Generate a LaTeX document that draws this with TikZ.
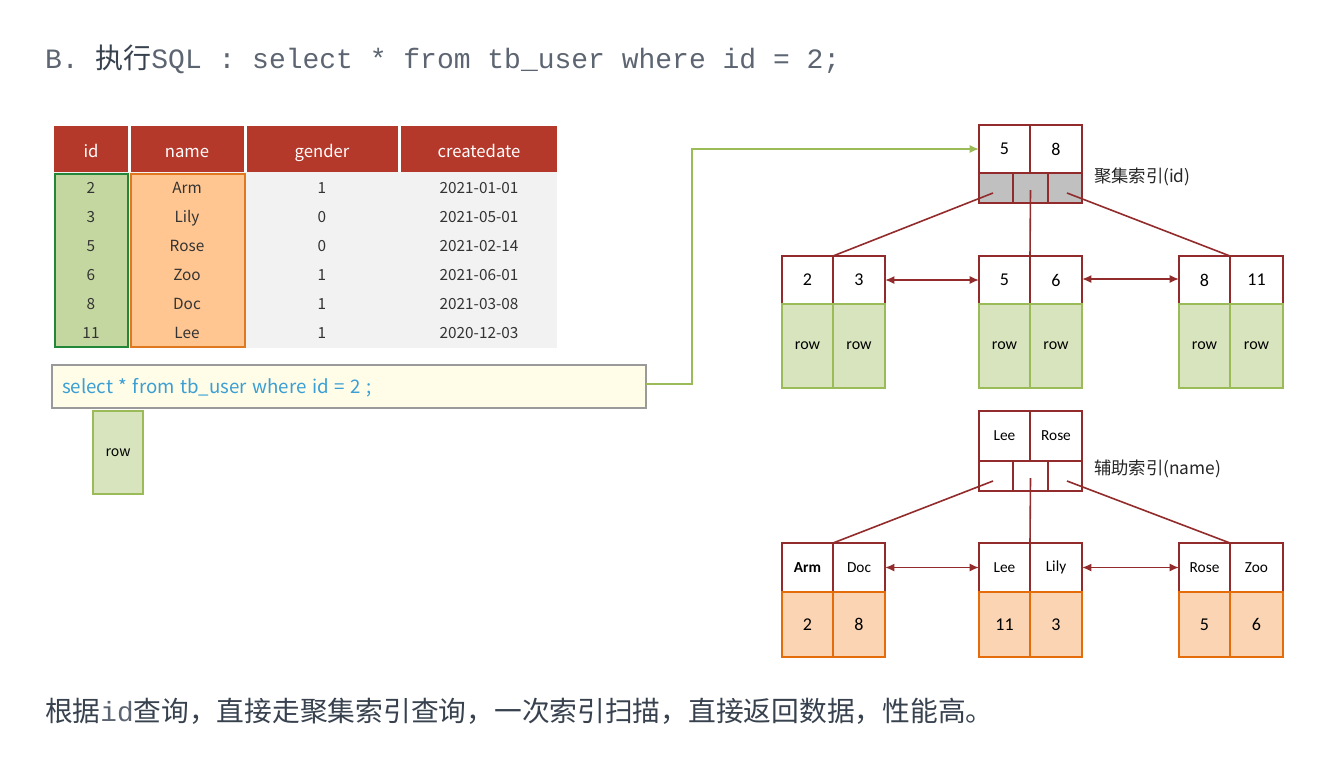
\documentclass[tikz,border=0pt]{standalone}
\usepackage{fontspec}
\setmainfont{Carlito}
\newfontfamily\cjk{Noto Sans CJK SC}
\newfontfamily\monof{Liberation Mono}
\usetikzlibrary{arrows.meta}
\definecolor{hdrred}{HTML}{B5392B}
\definecolor{bodygray}{HTML}{F2F2F2}
\definecolor{idfill}{HTML}{C5D7A0}
\definecolor{idline}{HTML}{23873A}
\definecolor{nmfill}{HTML}{FFC691}
\definecolor{nmline}{HTML}{E07820}
\definecolor{sqlfill}{HTML}{FFFDE8}
\definecolor{sqlline}{HTML}{9A9A9A}
\definecolor{sqltxt}{HTML}{3A9FD4}
\definecolor{linkgreen}{HTML}{9BBB59}
\definecolor{treered}{HTML}{922B2B}
\definecolor{rowfill}{HTML}{D7E4BD}
\definecolor{valfill}{HTML}{FBD4B4}
\definecolor{valline}{HTML}{E46C0A}
\definecolor{ptrgray}{HTML}{C0C0C0}
\definecolor{titlemono}{HTML}{5C6571}
\definecolor{titlecjk}{HTML}{38424F}
\definecolor{bodytxt}{HTML}{333333}
\newcommand\cellbox[7]{\node[#6, minimum width={(#4-#2)*0.75pt}, minimum height={(#5-#3)*0.75pt}] (#1) at ({(#2+#4)/2},{(#3+#5)/2}) {#7};}
\tikzset{
  every node/.style={inner sep=0pt, outer sep=0pt},
  hdr/.style={fill=hdrred},
  hdrt/.style={anchor=base, text=white, font=\cjk\fontsize{12.5pt}{14pt}\selectfont},
  tcell/.style={anchor=base, text=bodytxt, font=\cjk\fontsize{11.5pt}{13pt}\selectfont},
  key/.style={draw=treered, line width=1.4pt, fill=white, font=\fontsize{13.5pt}{15pt}\selectfont},
  keyn/.style={draw=treered, line width=1.4pt, fill=white, font=\fontsize{11.5pt}{13pt}\selectfont},
  ptrg/.style={draw=treered, line width=1.4pt, fill=ptrgray},
  ptrw/.style={draw=treered, line width=1.4pt, fill=white},
  rowc/.style={draw=linkgreen, line width=1.4pt, fill=rowfill, font=\fontsize{12pt}{14pt}\selectfont},
  valc/.style={draw=valline, line width=1.4pt, fill=valfill, font=\fontsize{13.5pt}{15pt}\selectfont},
  tline/.style={draw=treered, line width=1.2pt},
  sib/.style={draw=treered, line width=1.2pt, {Latex[length=7pt,width=6pt]}-{Latex[length=7pt,width=6pt]}},
  lbl/.style={anchor=west, font=\cjk\fontsize{13pt}{15pt}\selectfont, text=black!85}
}
\begin{document}
\begin{tikzpicture}[x=0.75pt,y=-0.75pt]
\useasboundingbox (0,0) rectangle (1338,769);
\fill[white] (0,0) rectangle (1338,769);
% title
\node[anchor=base west] (title) at (45,68) {\fontsize{21pt}{24pt}\selectfont\color{titlemono}\monof B. \color{titlecjk}\cjk 执行\color{titlemono}\monof SQL : select * from tb\_user where id = 2;};
% table
\fill[bodygray] (54,172) rectangle (557,348);
\cellbox{h1}{54}{126}{128}{172}{hdr}{}
\cellbox{h2}{131}{126}{244}{172}{hdr}{}
\cellbox{h3}{247}{126}{398}{172}{hdr}{}
\cellbox{h4}{401}{126}{557}{172}{hdr}{}
\node[hdrt] (h1t) at (91,157) {id};
\node[hdrt] (h2t) at (187,157) {name};
\node[hdrt] (h3t) at (322,157) {gender};
\node[hdrt] (h4t) at (479,157) {createdate};
\draw[idline, line width=1.6pt, fill=idfill] (55,174) rectangle (128,347);
\draw[nmline, line width=1.6pt, fill=nmfill] (131,174) rectangle (245,347);
\foreach \y/\a/\b/\c/\d [count=\i] in {193/2/Arm/1/2021-01-01, 222/3/Lily/0/2021-05-01, 251/5/Rose/0/2021-02-14, 280/6/Zoo/1/2021-06-01, 309/8/Doc/1/2021-03-08, 338/11/Lee/1/2020-12-03}{
  \node[tcell] (t\i a) at (91,\y) {\a};
  \node[tcell] (t\i b) at (187,\y) {\b};
  \node[tcell] (t\i c) at (322,\y) {\c};
  \node[tcell] (t\i d) at (479,\y) {\d};
}
% sql box
\cellbox{sql}{52}{365}{646}{408}{draw=sqlline, line width=0.8pt, fill=sqlfill}{}
\node[anchor=base west, text=sqltxt, font=\cjk\fontsize{14pt}{16pt}\selectfont] (sqltext) at (62,393) {\spaceskip=0.3em\relax select * from tb\_user where id = 2 ;};
\cellbox{rowout}{93}{411}{143}{494}{draw=linkgreen, line width=1.3pt, fill=rowfill, font=\cjk\fontsize{10.5pt}{12pt}\selectfont}{row}
% clustered index root
\cellbox{ca1}{979}{125}{1030}{173}{key}{5}
\cellbox{ca2}{1030}{125}{1082}{173}{key}{8}
\cellbox{cp1}{979}{173}{1013}{203}{ptrg}{}
\cellbox{cp2}{1013}{173}{1048}{203}{ptrg}{}
\cellbox{cp3}{1048}{173}{1082}{203}{ptrg}{}
\node[lbl] (clab) at (1094,177) {聚集索引(id)};
% clustered leaves
\cellbox{cl1}{782}{256}{833}{304}{key}{2}
\cellbox{cl2}{833}{256}{885}{304}{key}{3}
\cellbox{cl1r}{782}{304}{833}{388}{rowc}{row}
\cellbox{cl2r}{833}{304}{885}{388}{rowc}{row}
\cellbox{cm1}{979}{256}{1030}{304}{key}{5}
\cellbox{cm2}{1030}{256}{1082}{304}{key}{6}
\cellbox{cm1r}{979}{304}{1030}{388}{rowc}{row}
\cellbox{cm2r}{1030}{304}{1082}{388}{rowc}{row}
\cellbox{cr1}{1179}{256}{1230}{304}{key}{8}
\cellbox{cr2}{1230}{256}{1283}{304}{key}{11}
\cellbox{cr1r}{1179}{304}{1230}{388}{rowc}{row}
\cellbox{cr2r}{1230}{304}{1283}{388}{rowc}{row}
\draw[tline] ([shift={(-3,5)}]cp1.center) -- (cl1.north east);
\draw[tline] ([shift={(0,2)}]cp2.center) -- (cm1.north east);
\draw[tline] ([shift={(2,5)}]cp3.center) -- (cr1.north east);
\draw[sib] (cl2.east) -- (cm1.west);
\draw[sib] ([yshift=0.75pt]cm2.east) -- ([yshift=0.75pt]cr1.west);
% secondary index root
\cellbox{sa1}{979}{411}{1030}{461}{keyn}{Lee}
\cellbox{sa2}{1030}{411}{1082}{461}{keyn}{Rose}
\cellbox{sp1}{979}{461}{1013}{491}{ptrw}{}
\cellbox{sp2}{1013}{461}{1048}{491}{ptrw}{}
\cellbox{sp3}{1048}{461}{1082}{491}{ptrw}{}
\node[lbl] (slab) at (1094,469) {辅助索引(name)};
% secondary leaves
\cellbox{sl1}{782}{543}{833}{592}{keyn}{\textbf{Arm}}
\cellbox{sl2}{833}{543}{885}{592}{keyn}{Doc}
\cellbox{sl1v}{782}{592}{833}{657}{valc}{2}
\cellbox{sl2v}{833}{592}{885}{657}{valc}{8}
\cellbox{sm1}{979}{543}{1030}{592}{keyn}{Lee}
\cellbox{sm2}{1030}{543}{1082}{592}{keyn}{Lily}
\cellbox{sm1v}{979}{592}{1030}{657}{valc}{11}
\cellbox{sm2v}{1030}{592}{1082}{657}{valc}{3}
\cellbox{sr1}{1179}{543}{1230}{592}{keyn}{Rose}
\cellbox{sr2}{1230}{543}{1283}{592}{keyn}{Zoo}
\cellbox{sr1v}{1179}{592}{1230}{657}{valc}{5}
\cellbox{sr2v}{1230}{592}{1283}{657}{valc}{6}
\draw[tline] ([shift={(-3,5)}]sp1.center) -- (sl1.north east);
\draw[tline] ([shift={(0,2)}]sp2.center) -- (sm1.north east);
\draw[tline] ([shift={(2,5)}]sp3.center) -- (sr1.north east);
\draw[sib] (sl2.east) -- (sm1.west);
\draw[sib] (sm2.east) -- (sr1.west);
% green connector
\draw[linkgreen, line width=1.2pt, -{Latex[length=7pt,width=6pt]}] ([yshift=2pt]sql.east) -- ++(46,0) |- (ca1.west);
% bottom note
\node[anchor=base west] (note) at (45,721) {\fontsize{20.8pt}{24pt}\selectfont\color{titlecjk}\cjk 根据\color{titlemono}\monof id\color{titlecjk}\cjk 查询，直接走聚集索引查询，一次索引扫描，直接返回数据，性能高。};
\end{tikzpicture}
\end{document}
